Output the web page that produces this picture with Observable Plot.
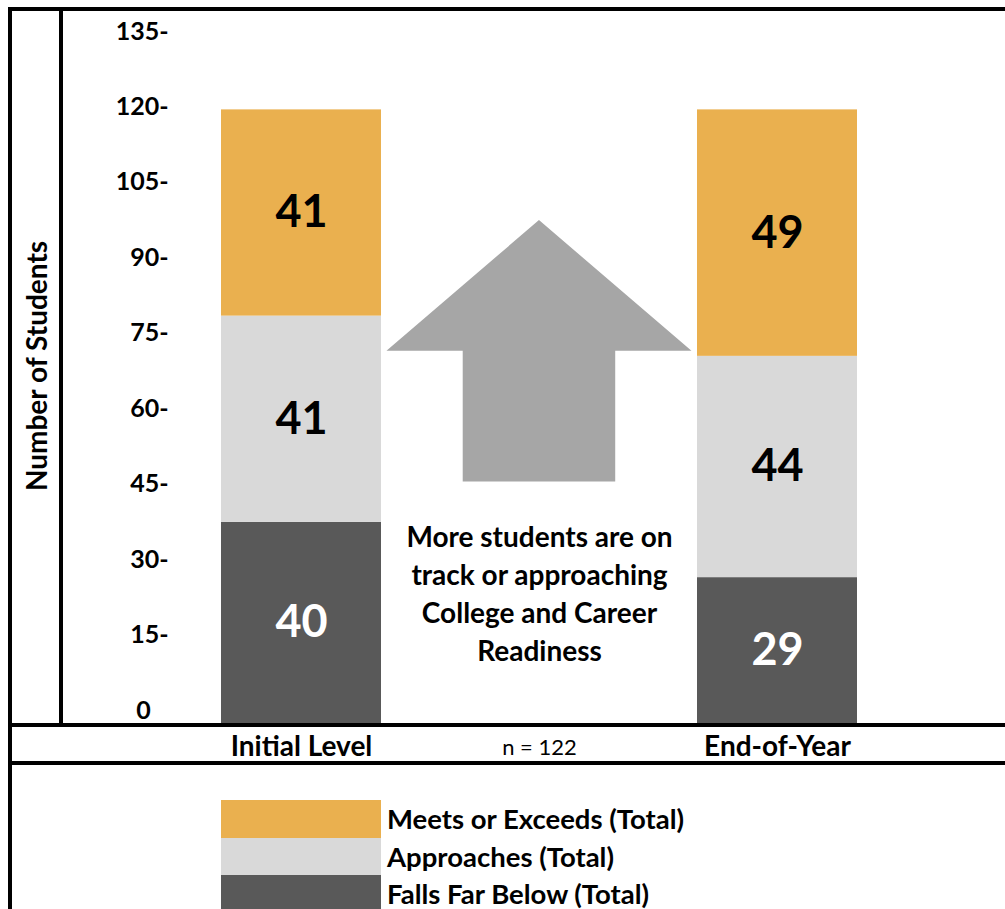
<!DOCTYPE html>
<html><head><meta charset="utf-8">
<script src="https://cdn.jsdelivr.net/npm/d3@7"></script>
<script src="https://cdn.jsdelivr.net/npm/@observablehq/plot@0.6"></script>
<style>
  body { margin: 0; background: #fff; }
  #wrap { position: relative; width: 1005px; height: 909px; overflow: hidden; font-family: Lato, sans-serif; background: #fff; }
  #wrap svg { position: absolute; left: 0; top: 0; }
  .ln { position: absolute; background: #000; }
  #legend { position: absolute; left: 221px; top: 800px; }
  .row { display: flex; align-items: center; height: 37.5px; }
  .sw { width: 160px; height: 37.5px; flex: none; }
  .lab { margin-left: 6px; font-weight: bold; font-size: 27.5px; line-height: 1; color: #000; white-space: nowrap; }
</style></head>
<body><div id="wrap"></div>
<script>
const categories = ["Initial Level", "End-of-Year"];
const levels = ["Falls Far Below (Total)", "Approaches (Total)", "Meets or Exceeds (Total)"];
const fallsFarBelow = [40, 29];
const approaches = [41, 44];
const meetsOrExceeds = [41, 49];
const yTicks = [0, 15, 30, 45, 60, 75, 90, 105, 120, 135];
const levelColors = ["#595959", "#D9D9D9", "#EAB04F"];
const yLabel = "Number of Students";
const sampleNote = "n = 122";
const annotation = "More students are on\ntrack or approaching\nCollege and Career\nReadiness";

const series = [fallsFarBelow, approaches, meetsOrExceeds];
const data = categories.flatMap((c, i) => levels.map((l, j) => ({category: c, level: l, value: series[j][i]})));

const paddingInner = 0.664;

// decorative up-arrow between the two bars, placed via the plot's scales
function arrowMark(index, scales) {
  const {x, y} = scales;
  const x0 = x(categories[0]), x1 = x(categories[1]);
  const bw = (x1 - x0) * (1 - paddingInner);
  const left = x0 + bw, right = x1;
  const cx = (left + right) / 2;
  const head = (right - left) / 2 * 0.965, shaft = head * 0.5;
  const yTip = y(100), yShoulder = y(74), yBase = y(48);
  const p = d3.path();
  p.moveTo(cx, yTip);
  p.lineTo(cx + head, yShoulder);
  p.lineTo(cx + shaft, yShoulder);
  p.lineTo(cx + shaft, yBase);
  p.lineTo(cx - shaft, yBase);
  p.lineTo(cx - shaft, yShoulder);
  p.lineTo(cx - head, yShoulder);
  p.closePath();
  return d3.create("svg:path").attr("d", p.toString()).attr("fill", "#A6A6A6").node();
}

const stackOpts = () => Plot.stackY({x: "category", y: "value", text: d => String(d.value)});

const plot = Plot.plot({
  width: 1005, height: 763,
  marginLeft: 175, marginRight: 102, marginTop: 44, marginBottom: 40,
  style: {fontFamily: "Lato, sans-serif", fontWeight: "bold", fontSize: "25px", color: "#000", background: "transparent", overflow: "visible"},
  x: {domain: categories, paddingInner, paddingOuter: 0.0966, axis: null},
  y: {domain: [0, 135], axis: null},
  color: {domain: levels, range: levelColors},
  marks: [
    Plot.barY(data, Plot.stackY({x: "category", y: "value", fill: "level"})),
    arrowMark,
    Plot.text(data, {...stackOpts(), filter: d => d.level !== levels[0], fill: "black", fontSize: 45}),
    Plot.text(data, {...stackOpts(), filter: d => d.level === levels[0], fill: "white", fontSize: 45}),
    Plot.axisY({ticks: yTicks, tickSize: 0, tickPadding: 7, dy: -13, fontSize: 25, label: null,
      tickFormat: d => d === 0 ? "0\u2007\u2009" : d + "-"}),
    Plot.axisX({tickSize: 0, tickPadding: 13, fontSize: 28, label: null}),
    Plot.text([yLabel], {frameAnchor: "left", textAnchor: "middle", lineAnchor: "middle", rotate: -90, dx: -137.5, dy: -18, fontSize: 28}),
    Plot.text([sampleNote], {frameAnchor: "bottom", lineAnchor: "middle", dy: 24, fontSize: 22, fontWeight: "normal"}),
    Plot.text([annotation], {frameAnchor: "bottom", lineAnchor: "middle", dy: -132, fontSize: 28, lineHeight: 1.36})
  ]
});

const wrap = document.getElementById("wrap");
wrap.appendChild(plot);

// frame lines
[[8, 7, 997, 4], [8, 7, 4, 902], [59, 7, 4, 720], [8, 723, 997, 4], [8, 761, 997, 4]].forEach(([l, t, w, h]) => {
  const d = document.createElement("div");
  d.className = "ln";
  Object.assign(d.style, {left: l + "px", top: t + "px", width: w + "px", height: h + "px"});
  wrap.appendChild(d);
});

// legend (top to bottom: Meets, Approaches, Falls)
const legend = document.createElement("div");
legend.id = "legend";
levels.slice().reverse().forEach(l => {
  const row = document.createElement("div");
  row.className = "row";
  const sw = document.createElement("div");
  sw.className = "sw";
  sw.style.background = levelColors[levels.indexOf(l)];
  const lab = document.createElement("div");
  lab.className = "lab";
  lab.textContent = l;
  row.appendChild(sw); row.appendChild(lab);
  legend.appendChild(row);
});
wrap.appendChild(legend);
</script>
</body></html>
